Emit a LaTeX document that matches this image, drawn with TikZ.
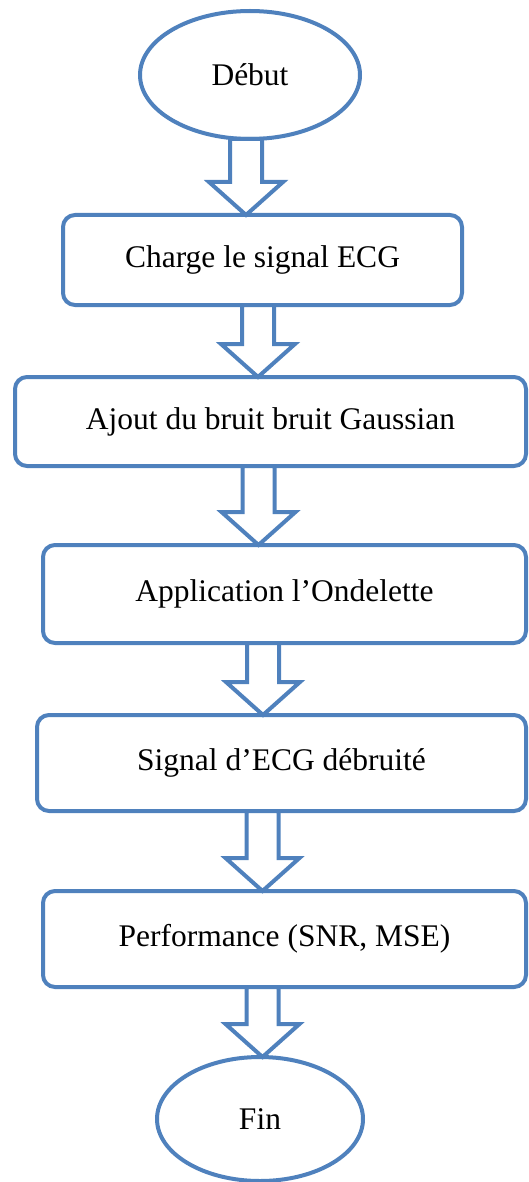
\documentclass[tikz,border=0pt]{standalone}
\usepackage{fontspec}
\setmainfont{Liberation Serif}
\usetikzlibrary{shapes.geometric,calc}
\definecolor{bleu}{RGB}{79,129,189}

% block arrow: from node #1 down to node #2, shaft centred at x = #3 (pt)
\newcommand{\blocfleche}[3]{%
  \draw[fleche] let \p1=(#1.south), \p2=(#2.north) in
    (#3pt-16pt,\y1) -- (#3pt-16pt,\y2+33pt) -- (#3pt-37pt,\y2+33pt) -- (#3pt,\y2)
    -- (#3pt+37pt,\y2+33pt) -- (#3pt+16pt,\y2+33pt) -- (#3pt+16pt,\y1) -- cycle;}

\begin{document}
\begin{tikzpicture}[x=1pt, y=-1pt,
  etape/.style={draw=bleu, line width=4pt, rounded corners=12pt, fill=white,
    outer sep=0pt, font=\fontsize{31.5}{36}\selectfont},
  terminal/.style={draw=bleu, line width=4pt, ellipse, fill=white, inner sep=0pt,
    outer sep=0pt, font=\fontsize{31.5}{36}\selectfont},
  fleche/.style={draw=bleu, line width=4pt, fill=white, line join=miter}]
  \useasboundingbox (0,0) rectangle (528,1182);
  \node[terminal, minimum width=220pt, minimum height=128pt] (debut) at (250,75) {Début};
  \node[etape, minimum width=399pt, minimum height=90pt] (charge) at (262.5,260) {Charge le signal ECG};
  \node[etape, minimum width=511pt, minimum height=89pt] (ajout) at (270.5,421.5) {Ajout du bruit bruit Gaussian};
  \node[etape, minimum width=483pt, minimum height=98pt] (ondelette) at (284.5,594) {Application l’Ondelette};
  \node[etape, minimum width=489pt, minimum height=96pt] (debruite) at (281.5,763) {Signal d’ECG débruité};
  \node[etape, minimum width=483pt, minimum height=96pt] (perf) at (284.5,939) {Performance (SNR, MSE)};
  \node[terminal, minimum width=206pt, minimum height=124pt] (fin) at (260,1119) {Fin};
  \blocfleche{debut}{charge}{246}
  \blocfleche{charge}{ajout}{258}
  \blocfleche{ajout}{ondelette}{258.5}
  \blocfleche{ondelette}{debruite}{263}
  \blocfleche{debruite}{perf}{262.5}
  \blocfleche{perf}{fin}{262.5}
\end{tikzpicture}
\end{document}
